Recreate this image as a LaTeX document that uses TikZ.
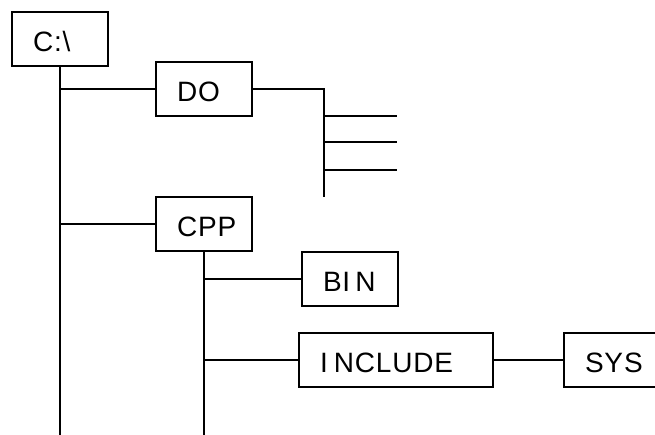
\documentclass[tikz,border=0pt]{standalone}
\usepackage{fontspec}
\setmainfont{Liberation Sans}
\newfontfamily\boxfont[LetterSpace=3]{Liberation Sans}
\begin{document}
\begin{tikzpicture}[x=1pt,y=-1pt,
  dirbox/.style={draw, line width=2pt, rectangle, inner xsep=21pt, inner ysep=0pt,
    minimum height=54pt, text height=24.5pt, text depth=0pt, align=left,
    font=\boxfont\fontsize{28}{30}\selectfont, anchor=center},
  tree/.style={line width=2pt}]
\clip (0,0) rectangle (655,435);
\fill[white] (0,0) rectangle (655,435);
\node[dirbox, text width=54pt] (root) at (60,39) {C:\textbackslash};
\node[dirbox, text width=54pt] (do) at (204,89) {DO};
\node[dirbox, text width=54pt] (cpp) at (204,224) {CPP};
\node[dirbox, text width=54pt] (bin) at (350,279) {BI\kern5pt N};
\node[dirbox, text width=152pt] (inc) at (396,360) {I\kern6pt NCLUDE};
\node[dirbox, text width=54pt] (sys) at (612,360) {SYS};
\coordinate (rootend) at (60,440);
\coordinate (cppend) at (204,440);
\draw[tree] (root.south) -- (rootend);
\draw[tree] (do.west) -- (do.west -| root.south);
\draw[tree] (cpp.west) -- (cpp.west -| root.south);
\draw[tree] (cpp.south) -- (cppend);
\draw[tree] (bin.west) -- (bin.west -| cpp.south);
\draw[tree] (inc.west) -- (inc.west -| cpp.south);
\draw[tree] (inc.east) -- (sys.west);
\coordinate (dj) at (324,89);
\coordinate (djend) at (324,197);
\coordinate (b1) at (397,116);
\coordinate (b2) at (397,142);
\coordinate (b3) at (397,170);
\draw[tree] (do.east) -- (dj) -- (djend);
\draw[tree] (b1 -| dj) -- (b1);
\draw[tree] (b2 -| dj) -- (b2);
\draw[tree] (b3 -| dj) -- (b3);
\end{tikzpicture}
\end{document}
